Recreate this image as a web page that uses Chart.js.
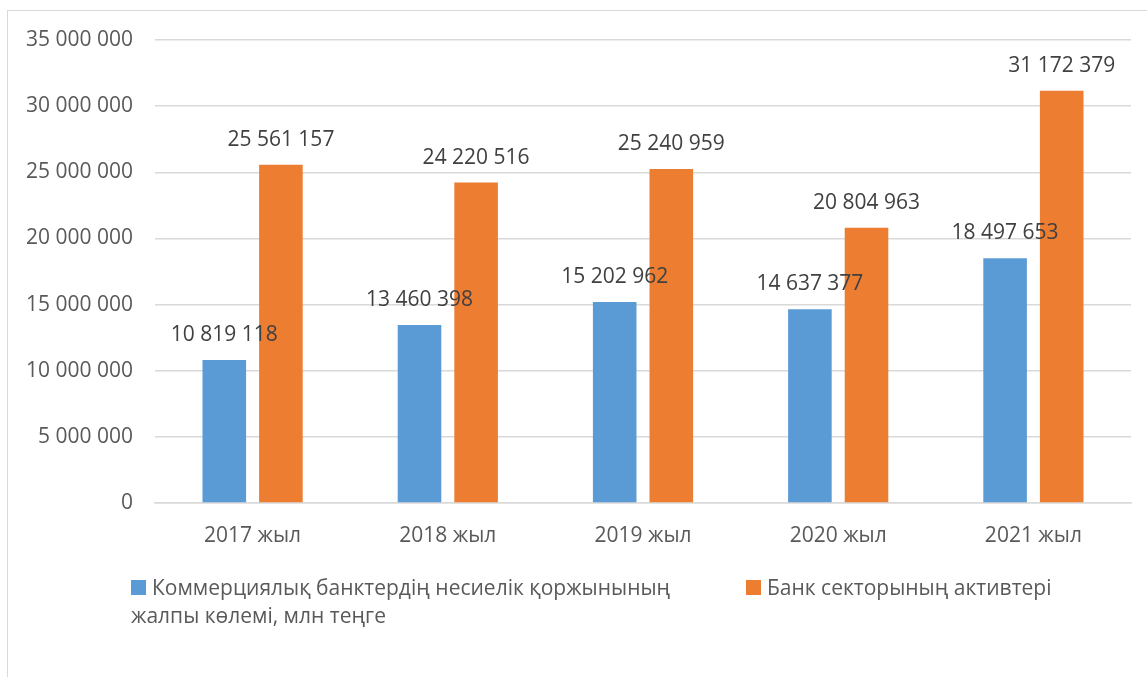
<!DOCTYPE html>
<html>
<head>
<meta charset="utf-8">
<script src="https://cdn.jsdelivr.net/npm/chart.js@4.4.1/dist/chart.umd.min.js"></script>
<style>
  html, body { margin: 0; padding: 0; background: #fff; }
  body { width: 1147px; height: 677px; position: relative; overflow: hidden; font-family: "Open Sans", sans-serif; }
  #frame { position: absolute; left: 7px; top: 10px; width: 1200px; height: 700px; border: 1px solid #d9d9d9; }
  #wrap { position: absolute; left: 0; top: 0; width: 1147px; height: 677px; }
  .legend { position: absolute; top: 573px; font-size: 21px; color: #595959; line-height: 28px; }
  .legend .box { display: inline-block; width: 15px; height: 15px; margin-right: 6px; vertical-align: 0px; }
  #leg1 { left: 131px; width: 560px; }
  #leg2 { left: 746px; }
</style>
</head>
<body>
<div id="frame"></div>
<div id="wrap"><canvas id="chart" width="1147" height="677"></canvas></div>
<div class="legend" id="leg1"></div>
<div class="legend" id="leg2"></div>
<script>
const years = ['2017 жыл', '2018 жыл', '2019 жыл', '2020 жыл', '2021 жыл'];
const loanPortfolio = [10819118, 13460398, 15202962, 14637377, 18497653];
const bankAssets = [25561157, 24220516, 25240959, 20804963, 31172379];
const seriesNames = [
    'Коммерциялық банктердің несиелік қоржынының жалпы көлемі, млн теңге',
    'Банк секторының активтері'
];
const seriesColors = ['#5b9bd5', '#ed7d31'];

function fmt(v) {
    return String(v).replace(/\B(?=(\d{3})+(?!\d))/g, ' ');
}

// data labels above each bar
const barLabels = {
    id: 'barLabels',
    afterDatasetsDraw(chart) {
        const ctx = chart.ctx;
        ctx.save();
        ctx.font = '21px "Open Sans"';
        ctx.fillStyle = '#404040';
        ctx.textAlign = 'center';
        ctx.textBaseline = 'middle';
        chart.data.datasets.forEach((ds, i) => {
            chart.getDatasetMeta(i).data.forEach((bar, j) => {
                ctx.fillText(fmt(ds.data[j]), bar.x, bar.y - 25);
            });
        });
        ctx.restore();
    }
};

const ctx = document.getElementById('chart');
const chart = new Chart(ctx, {
    type: 'bar',
    data: {
        labels: years,
        datasets: [
            { label: seriesNames[0], data: loanPortfolio, backgroundColor: seriesColors[0] },
            { label: seriesNames[1], data: bankAssets, backgroundColor: seriesColors[1] }
        ]
    },
    options: {
        responsive: false,
        animation: false,
        layout: { padding: { top: 40, right: 16, left: 0, bottom: 0 } },
        datasets: { bar: { barPercentage: 0.77, categoryPercentage: 0.58 } },
        plugins: { legend: { display: false }, tooltip: { enabled: false } },
        scales: {
            x: {
                afterFit(scale) { scale.height = 174; },
                grid: { display: false },
                border: { color: '#d9d9d9', width: 1.5 },
                ticks: { color: '#595959', font: { family: 'Open Sans', size: 21 }, padding: 12 }
            },
            y: {
                min: 0,
                max: 35000000,
                afterFit(scale) { scale.width = 155; },
                border: { display: false },
                grid: { color: '#d9d9d9', lineWidth: 1.5, drawTicks: false },
                ticks: {
                    stepSize: 5000000,
                    color: '#595959',
                    font: { family: 'Open Sans', size: 21 },
                    padding: 22,
                    callback: v => fmt(v)
                }
            }
        }
    },
    plugins: [barLabels]
});

// legend built from the datasets, wraps like the original
['leg1', 'leg2'].forEach((id, i) => {
    const el = document.getElementById(id);
    el.innerHTML = '<span class="box" style="background:' + seriesColors[i] + '"></span>' + seriesNames[i];
});
</script>
</body>
</html>
